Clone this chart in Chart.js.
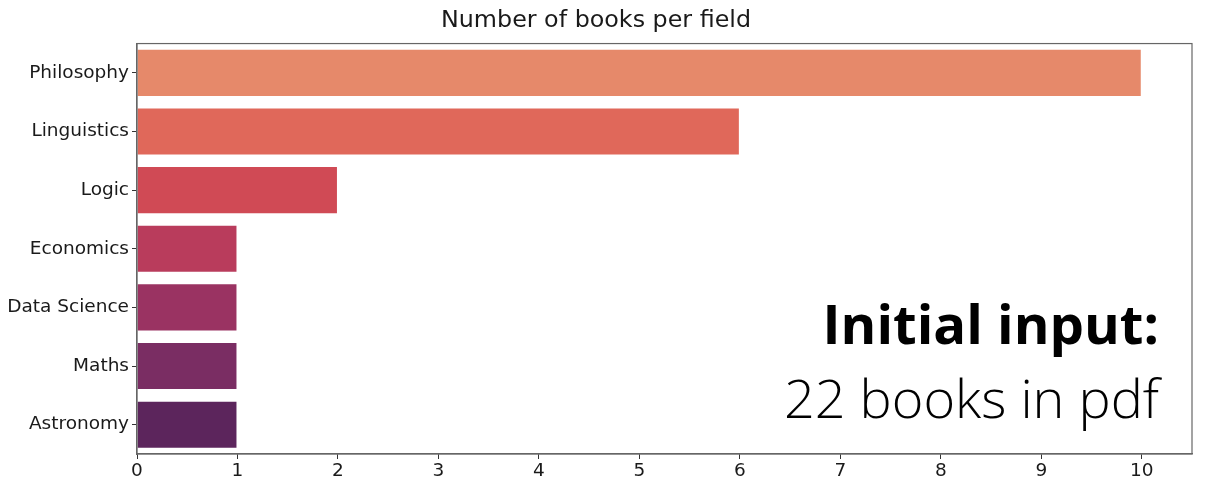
<!DOCTYPE html>
<html>
<head>
<meta charset="utf-8">
<script src="https://cdn.jsdelivr.net/npm/chart.js@4/dist/chart.umd.min.js"></script>
<style>
  html, body { margin: 0; padding: 0; background: #fff; }
  #wrap { position: relative; width: 1208px; height: 489px; }
  .note { position: absolute; right: 49px; font-family: "Open Sans", sans-serif; color: #000; line-height: 1; white-space: nowrap; }
  #note1 { top: 296px; font-size: 54.5px; font-weight: 700; }
  #note2 { top: 370px; font-size: 54px; font-weight: 300; }
</style>
</head>
<body>
<div id="wrap">
  <canvas id="chart" width="1208" height="489"></canvas>
  <div class="note" id="note1">Initial input:</div>
  <div class="note" id="note2">22 books in pdf</div>
</div>
<script>
const fields = ['Philosophy', 'Linguistics', 'Logic', 'Economics', 'Data Science', 'Maths', 'Astronomy'];
const bookCounts = [10, 6, 2, 1, 1, 1, 1];
const barColors = ['#e6896a', '#e0685a', '#d04a55', '#b93c5c', '#9a3362', '#7a2d63', '#5c255c'];
const xTicks = [0, 1, 2, 3, 4, 5, 6, 7, 8, 9, 10];
const xMax = 10.5;

// cadre autour de la zone de tracé (style matplotlib)
const framePlugin = {
    id: 'frame',
    afterDraw(chart) {
        const { ctx, chartArea: a } = chart;
        ctx.save();
        ctx.strokeStyle = '#666';
        ctx.lineWidth = 1.2;
        ctx.strokeRect(a.left, a.top, a.right - a.left, a.bottom - a.top);
        ctx.restore();
    }
};

const ctx = document.getElementById('chart').getContext('2d');
const chart = new Chart(ctx, {
    type: 'bar',
    data: {
        labels: fields,
        datasets: [{
            label: 'Books',
            data: bookCounts,
            backgroundColor: barColors,
            borderColor: 'rgba(255,255,255,0.3)',
            borderWidth: 1,
            categoryPercentage: 0.82,
            barPercentage: 1
        }]
    },
    options: {
        indexAxis: 'y',
        responsive: false,
        animation: false,
        layout: { padding: { left: 0, right: 16, top: 0, bottom: 0 } },
        plugins: {
            legend: { display: false },
            tooltip: { enabled: false },
            title: {
                display: true,
                text: 'Number of books per field',
                color: '#1a1a1a',
                font: { family: "'DejaVu Sans'", size: 23.8, weight: 'normal' },
                padding: { top: 7, bottom: 8 }
            }
        },
        scales: {
            x: {
                min: 0,
                max: xMax,
                afterBuildTicks: (scale) => {
                    scale.ticks = xTicks.map(v => ({ value: v }));
                },
                afterFit: (scale) => { scale.height = 35; },
                ticks: { color: '#1a1a1a', font: { family: "'DejaVu Sans'", size: 18.5 }, padding: 1 },
                grid: { drawOnChartArea: false, drawTicks: true, tickLength: 5, color: '#333' },
                border: { display: true, color: '#666', width: 1.2 }
            },
            y: {
                afterFit: (scale) => { scale.width = 137; },
                ticks: { color: '#1a1a1a', font: { family: "'DejaVu Sans'", size: 18.5 }, padding: 3 },
                grid: { offset: false, drawOnChartArea: false, drawTicks: true, tickLength: 5, color: '#333' },
                border: { display: true, color: '#666', width: 1.2 }
            }
        }
    },
    plugins: [framePlugin]
});
</script>
</body>
</html>
